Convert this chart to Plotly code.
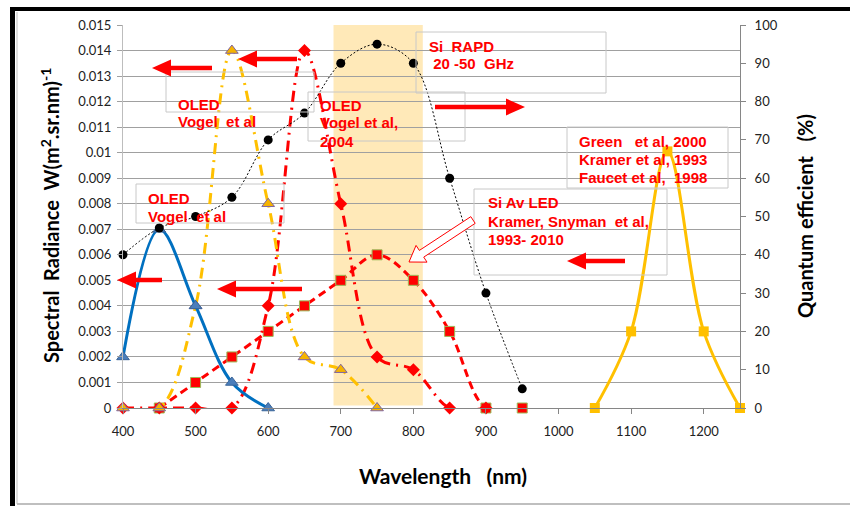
import math
import plotly.graph_objects as go

# ---------------- data ----------------
wl_blue = [400, 450, 500, 550, 600]
oled_blue = [0.002, 0.007, 0.004, 0.001, 0.0]

wl_yel = [400, 450, 500, 550, 600, 650, 700, 750]
oled_yellow = [0.0, 0.0, 0.004, 0.014, 0.008, 0.002, 0.0015, 0.0]

wl_dia = [400, 450, 500, 550, 600, 650, 700, 750, 800, 850, 900]
oled_red = [0.0, 0.0, 0.0, 0.0, 0.004, 0.014, 0.008, 0.002, 0.0015, 0.0, 0.0]

wl_sq = [450, 500, 550, 600, 650, 700, 750, 800, 850, 900, 950]
si_av_led = [0.0, 0.001, 0.002, 0.003, 0.004, 0.005, 0.006, 0.005, 0.003, 0.0, 0.0]

wl_rapd = [400, 450, 500, 550, 600, 650, 700, 750, 800, 850, 900, 950]
rapd_qe = [40, 47, 50, 55, 70, 77, 90, 95, 90, 60, 30, 5]

wl_green = [1050, 1100, 1150, 1200, 1250]
green_qe = [0, 20, 67, 20, 0]

x_ticks = [400, 500, 600, 700, 800, 900, 1000, 1100, 1200]
band = [690, 813]

# ---------------- geometry helpers ----------------
W, H = 850, 506
ML, MR, MT, MB = 123, 110, 25, 98
PW = W - ML - MR
PH = H - MT - MB


def px(x):
    return (x - ML) / PW


def py(y):
    return (H - MB - y) / PH


def arrow_path(tx, ty, hx, hy, shaft, head_w, head_len):
    dx, dy = hx - tx, hy - ty
    L = math.hypot(dx, dy)
    ux, uy = dx / L, dy / L
    nx, ny = -uy, ux
    bx, by = hx - ux * head_len, hy - uy * head_len
    pts = [
        (tx + nx * shaft / 2, ty + ny * shaft / 2),
        (bx + nx * shaft / 2, by + ny * shaft / 2),
        (bx + nx * head_w / 2, by + ny * head_w / 2),
        (hx, hy),
        (bx - nx * head_w / 2, by - ny * head_w / 2),
        (bx - nx * shaft / 2, by - ny * shaft / 2),
        (tx - nx * shaft / 2, ty - ny * shaft / 2),
    ]
    return "M " + " L ".join(f"{px(a):.5f},{py(b):.5f}" for a, b in pts) + " Z"


fig = go.Figure()

RED = "#FF0000"
YEL = "#FFC000"

fig.add_trace(go.Scatter(
    x=wl_sq, y=si_av_led, mode="lines+markers", line=dict(color=RED, width=3, dash="8px,5px", shape="spline"),
    marker=dict(symbol="square", size=10, color=RED, line=dict(color="#9BBB59", width=1)), cliponaxis=False))
fig.add_trace(go.Scatter(
    x=wl_dia, y=oled_red, mode="lines+markers", line=dict(color=RED, width=3, dash="11px,6px,2px,6px", shape="spline"),
    marker=dict(symbol="diamond", size=10, color=RED), cliponaxis=False))
fig.add_trace(go.Scatter(
    x=wl_yel, y=oled_yellow, mode="lines+markers", line=dict(color=YEL, width=3, dash="11px,6px,2px,6px", shape="spline"),
    marker=dict(symbol="triangle-up", size=11, color="#F5B300", line=dict(color="#7F64A2", width=1)), cliponaxis=False))
fig.add_trace(go.Scatter(
    x=wl_blue, y=oled_blue, mode="lines+markers", line=dict(color="#0070C0", width=3, shape="spline"),
    marker=dict(symbol="triangle-up", size=11, color="#4A7EBB", line=dict(color="#3A6498", width=1)), cliponaxis=False))
fig.add_trace(go.Scatter(
    x=wl_rapd, y=rapd_qe, yaxis="y2", mode="lines+markers", line=dict(color="black", width=1, dash="2px,2px", shape="spline"),
    marker=dict(symbol="circle", size=9, color="black"), cliponaxis=False))
fig.add_trace(go.Scatter(
    x=wl_green, y=green_qe, yaxis="y2", mode="lines+markers", line=dict(color=YEL, width=3, shape="spline"),
    marker=dict(symbol="square", size=10, color=YEL), cliponaxis=False))

shapes = []
# shaded band
shapes.append(dict(type="rect", xref="x", yref="y", x0=band[0], x1=band[1], y0=0.0001, y1=0.015,
                   fillcolor="#FFE9B8", line=dict(width=0), layer="below"))
# text boxes
boxes = [(166, 72, 314, 112), (308, 92, 465, 141), (136, 184, 284, 223),
         (416, 32, 606, 93), (567, 127, 728, 188), (474, 189, 667, 275)]
for x0, y0, x1, y1 in boxes:
    shapes.append(dict(type="rect", xref="paper", yref="paper", x0=px(x0), x1=px(x1), y0=py(y1), y1=py(y0),
                       line=dict(color="#C8C8C8", width=1), fillcolor="rgba(0,0,0,0)"))
# solid red arrows
arrows = [(212, 68, 152, 68), (297, 59, 238, 59), (435, 107, 525, 107),
          (625, 261, 567, 261), (162, 280, 117, 280), (302, 289, 217, 289)]
for tx, ty, hx, hy in arrows:
    shapes.append(dict(type="path", xref="paper", yref="paper", path=arrow_path(tx, ty, hx, hy, 4.5, 17, 19),
                       fillcolor=RED, line=dict(width=0)))
# hollow arrow
shapes.append(dict(type="path", xref="paper", yref="paper", path=arrow_path(473, 220, 409, 262, 8, 20, 15),
                   fillcolor="white", line=dict(color=RED, width=1)))
# frame
shapes += [
    dict(type="line", xref="paper", yref="paper", x0=px(10), x1=px(850), y0=py(9), y1=py(9), line=dict(color="black", width=4)),
    dict(type="line", xref="paper", yref="paper", x0=px(12.5), x1=px(12.5), y0=py(7), y1=py(506), line=dict(color="black", width=5)),
    dict(type="line", xref="paper", yref="paper", x0=px(17), x1=px(17), y0=py(12), y1=py(504), line=dict(color="#BFBFBF", width=1)),
    dict(type="line", xref="paper", yref="paper", x0=px(17), x1=px(850), y0=py(504), y1=py(504), line=dict(color="#BFBFBF", width=2)),
]

NB = "\u00a0"
lines = [
    ("OLED", 176, 104), (f"Vogel{NB}{NB}et al", 176, 121),
    ("OLED", 318, 105), ("Vogel et al,", 318, 123), ("2004", 318, 141),
    ("OLED", 146, 198), (f"Vogel{NB}{NB}et al", 146, 216),
    (f"Si{NB}{NB}RAPD", 427, 46), (f"{NB}20 -50{NB}{NB}GHz", 427, 64),
    (f"Green{NB}{NB}{NB}et al, 2000", 577, 141), ("Kramer et al, 1993", 577, 159), (f"Faucet et al,{NB}{NB}1998", 577, 177),
    ("Si Av LED", 486, 202), (f"Kramer, Snyman{NB}{NB}et al,", 486, 221), ("1993- 2010", 486, 239),
]
annotations = []
for t, x, y in lines:
    annotations.append(dict(text=f"<b>{t}</b>", x=px(x), y=py(y), xref="paper", yref="paper", xanchor="left",
                            yanchor="middle", showarrow=False, font=dict(family="Liberation Sans", size=15, color=RED)))
annotations.append(dict(text=f"<b>Spectral{NB}{NB}Radiance{NB}{NB}W(m<sup>2</sup>.sr.nm)<sup>-1</sup></b>", x=px(50), y=py(216),
                        xref="paper", yref="paper", xanchor="center", yanchor="middle", textangle=-90, showarrow=False,
                        font=dict(family="Lato", size=20, color="black")))
annotations.append(dict(text=f"<b>Quantum efficient{NB}{NB}{NB}(%)</b>", x=px(805), y=py(216),
                        xref="paper", yref="paper", xanchor="center", yanchor="middle", textangle=-90, showarrow=False,
                        font=dict(family="Lato", size=20, color="black")))
annotations.append(dict(text=f"<b>Wavelength{NB}{NB}{NB}(nm)</b>", x=px(443), y=py(475),
                        xref="paper", yref="paper", xanchor="center", yanchor="middle", showarrow=False,
                        font=dict(family="Lato", size=21, color="black")))

tickfont = dict(family="Lato", size=13, color="#222222")
fig.update_layout(
    width=W, height=H, margin=dict(l=ML, r=MR, t=MT, b=MB),
    paper_bgcolor="white", plot_bgcolor="white", showlegend=False,
    xaxis=dict(range=[400, 1250], tickvals=x_ticks, ticks="outside", ticklen=5, tickcolor="#868686",
               showline=True, linecolor="#868686", linewidth=1, showgrid=False, zeroline=False,
               tickfont=tickfont, ticklabelstandoff=6),
    yaxis=dict(range=[0, 0.015], dtick=0.001, tick0=0, ticks="outside", ticklen=5, tickcolor="#A0A0A0",
               showline=True, linecolor="#BDBDBD", showgrid=True, gridcolor="#A0A0A0", gridwidth=1,
               zeroline=False, tickfont=tickfont, ticklabelstandoff=3),
    yaxis2=dict(range=[0, 100], dtick=10, tick0=0, overlaying="y", side="right", ticks="outside", ticklen=5,
                tickcolor="#868686", showline=True, linecolor="#868686", showgrid=False, zeroline=False,
                tickfont=tickfont, ticklabelstandoff=6),
    shapes=shapes, annotations=annotations,
)

fig.write_html("out.html", config={"displayModeBar": False},
               post_script="document.body.style.margin='0';document.body.style.overflow='hidden';")
